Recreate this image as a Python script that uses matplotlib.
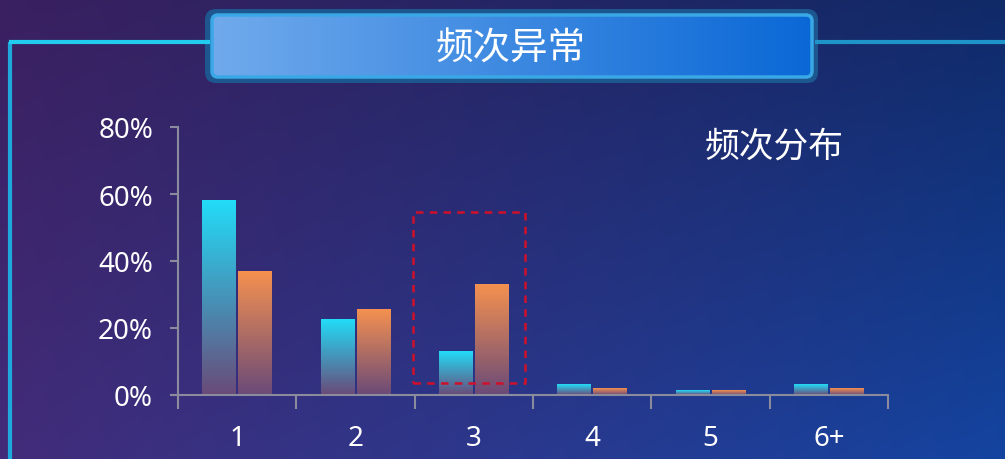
import numpy as np
import matplotlib
matplotlib.use("Agg")
import matplotlib.pyplot as plt
from matplotlib.patches import Rectangle, FancyBboxPatch
from matplotlib.colors import LinearSegmentedColormap

plt.rcParams['font.family'] = ['Noto Sans CJK SC', 'DejaVu Sans']

# ---- data ----
categories = ["1", "2", "3", "4", "5", "6+"]
series_a = [58.2, 22.4, 13.1, 3.0, 1.2, 3.0]   # cyan series (%)
series_b = [37.0, 25.4, 33.1, 2.0, 1.2, 2.0]   # orange series (%)
y_ticks = [0, 20, 40, 60, 80]
y_tick_labels = ["0%", "20%", "40%", "60%", "80%"]
title_text = "频次异常"
subtitle_text = "频次分布"
highlight_index = 2

W, H = 1005, 460
fig = plt.figure(figsize=(W / 100, H / 100), dpi=100)

# ---- background gradient ----
bg = fig.add_axes([0, 0, 1, 1])
bg.set_axis_off()
tl = np.array([58, 32, 96]) / 255
bl = np.array([66, 44, 122]) / 255
tr = np.array([16, 42, 104]) / 255
br = np.array([20, 68, 160]) / 255
u = np.linspace(0, 1, 200)[None, :, None]
v = np.linspace(0, 1, 100)[:, None, None]
img = (1 - u) * ((1 - v) * tl + v * bl) + u * ((1 - v) * tr + v * br)
bg.imshow(img, extent=[0, W, H, 0], aspect='auto', interpolation='bilinear')
bg.set_xlim(0, W)
bg.set_ylim(H, 0)

# frame lines
bg.plot([10, 10], [43, H], color='#1fa8dc', lw=3, solid_capstyle='butt')
bg.plot([9, 210], [43, 43], color='#22ccee', lw=3, solid_capstyle='butt')
bg.plot([815, W], [43, 43], color='#1f94c8', lw=3, solid_capstyle='butt')

# title box
outer = FancyBboxPatch((205, 10), 613, 74, boxstyle="round,pad=0,rounding_size=11",
                       facecolor='#1d5a92', edgecolor='none', alpha=0.95)
bg.add_patch(outer)
inner = FancyBboxPatch((212, 16), 600, 62, boxstyle="round,pad=0,rounding_size=6",
                       facecolor='none', edgecolor='#3aa8e6', lw=2.5)
bg.add_patch(inner)
tgrad = np.linspace(0, 1, 256)[None, :, None]
c0 = np.array([112, 170, 236]) / 255
c1 = np.array([10, 104, 214]) / 255
timg = (1 - tgrad) * c0 + tgrad * c1
im = bg.imshow(timg, extent=[212, 812, 78, 16], aspect='auto', zorder=2)
im.set_clip_path(inner)
inner.set_zorder(3)
bg.text(511, 49, title_text, color='white', fontsize=27, ha='center', va='center', zorder=4)
bg.text(774, 147, subtitle_text, color='white', fontsize=25, ha='center', va='center')

# ---- chart ----
ax = fig.add_axes([178 / W, (H - 396) / H, (888 - 178) / W, (396 - 128) / H])
ax.set_facecolor('none')
ax.set_xlim(-0.5, len(categories) - 0.5)
ax.set_ylim(0, 80)

x = np.arange(len(categories))
bw = 0.285
gap = 0.017

cmap_a = LinearSegmentedColormap.from_list('a', ['#6a4a78', '#22dcf8'])
cmap_b = LinearSegmentedColormap.from_list('b', ['#6a4a78', '#f59150'])
grad = np.linspace(0, 1, 256)[:, None]

bars_a = ax.bar(x - bw / 2 - gap / 2, series_a, width=bw, color='none', edgecolor='none')
bars_b = ax.bar(x + bw / 2 + gap / 2, series_b, width=bw, color='none', edgecolor='none')
for bars, cmap in ((bars_a, cmap_a), (bars_b, cmap_b)):
    for p in bars:
        x0, y0 = p.get_x(), p.get_y()
        w, h = p.get_width(), p.get_height()
        ax.imshow(grad, cmap=cmap, origin='lower', aspect='auto',
                  extent=[x0, x0 + w, y0, y0 + h], zorder=2)
ax.set_xlim(-0.5, len(categories) - 0.5)
ax.set_ylim(0, 80)

axis_col = '#8a8c9e'
for s in ['top', 'right']:
    ax.spines[s].set_visible(False)
for s in ['left', 'bottom']:
    ax.spines[s].set_color(axis_col)
    ax.spines[s].set_linewidth(1.5)

tick_font = ['Noto Sans', 'Noto Sans CJK SC']
ax.set_yticks(y_ticks)
ax.set_yticklabels(y_tick_labels, family=tick_font)
ax.tick_params(axis='y', colors=axis_col, length=6, width=1.5, pad=12,
               labelcolor='white', labelsize=20)
ax.set_xticks(x)
ax.set_xticklabels(categories, family=tick_font)
ax.set_xticks(np.arange(-0.5, len(categories)), minor=True)
ax.tick_params(axis='x', which='major', length=0, pad=21, labelcolor='white', labelsize=20)
ax.tick_params(axis='x', which='minor', length=10, width=1.5, color=axis_col)

# highlight dashed box
hl = Rectangle((highlight_index - 0.515, 3.6), 0.945, 51.0, fill=False,
               edgecolor='#d0102a', lw=1.8, linestyle=(0, (3, 2.5)), zorder=3, clip_on=False)
ax.add_patch(hl)

fig.savefig('out.png', dpi=100)
